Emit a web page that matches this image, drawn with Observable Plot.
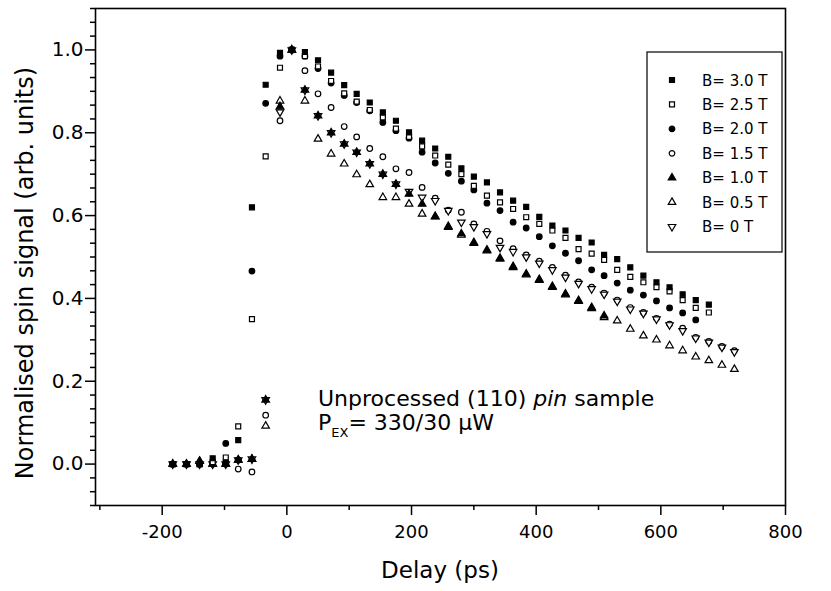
<!DOCTYPE html>
<html>
<head>
<meta charset="utf-8">
<script src="https://cdn.jsdelivr.net/npm/d3@7"></script>
<script src="https://cdn.jsdelivr.net/npm/@observablehq/plot@0.6"></script>
<style>
  html, body { margin: 0; padding: 0; background: #fff; }
  #chart { width: 831px; height: 591px; }
  text { font-family: "DejaVu Sans", "Liberation Sans", Arial, sans-serif; }
  g[aria-label="x-axis tick label"] { font-size: 18px; }
  g[aria-label="y-axis tick label"] { font-size: 20px; }
</style>
</head>
<body>
<div id="chart"></div>
<script>
// ---- data ----
const delays = [-183,-161,-140,-119,-98,-78,-56,-34,-11,
  8,29,50,71,92,112,133,154,175,196,217,238,259,280,300,321,342,363,384,405,
  426,447,468,489,509,530,551,572,593,614,635,656,677,698,718];

const b30 = [0.0,0.0,0.0,0.014,0.003,0.058,0.62,0.916,0.993,
  1.0,0.995,0.975,0.945,0.915,0.894,0.873,0.849,0.829,0.801,0.781,0.762,0.742,0.714,0.694,0.68,
  0.656,0.636,0.621,0.597,0.576,0.564,0.546,0.535,0.505,0.495,0.475,0.455,0.439,0.427,0.41,
  0.396,0.385,null,null];
const b25 = [0.0,0.0,0.0,0.005,0.016,0.091,0.35,0.743,0.957,
  1.0,0.985,0.96,0.925,0.895,0.875,0.855,0.837,0.81,0.79,0.767,0.745,0.723,0.70,0.672,0.648,
  0.632,0.616,0.596,0.58,0.564,0.546,0.519,0.508,0.493,0.469,0.452,0.439,0.427,0.417,0.396,
  0.377,0.366,null,null];
const b20 = [0.0,0.0,0.0,0.0,0.05,0.01,0.466,0.871,0.985,
  1.0,0.985,0.955,0.92,0.89,0.873,0.853,0.825,0.805,0.787,0.753,0.727,0.702,0.683,0.662,0.63,
  0.612,0.584,0.57,0.549,0.527,0.509,0.491,0.469,0.455,0.437,0.42,0.408,0.394,0.377,0.365,
  0.348,null,null,null];
const b15 = [0.0,0.0,0.0,0.0,0.0,-0.012,-0.019,0.118,0.829,
  1.0,0.95,0.894,0.861,0.815,0.79,0.762,0.742,0.713,0.704,0.668,0.642,0.613,0.608,0.58,0.562,
  0.539,0.52,0.505,0.49,0.475,0.456,0.44,0.427,0.413,0.396,0.378,0.366,0.352,0.338,0.328,
  0.306,0.296,0.284,0.274];
const b10 = [0.0,0.0,0.007,0.0,0.0,0.01,0.012,0.155,0.863,
  1.0,0.903,0.841,0.80,0.773,0.753,0.725,0.70,0.676,0.652,0.628,0.598,0.574,0.556,0.535,0.517,
  0.497,0.477,0.459,0.446,0.429,0.411,0.395,0.378,0.358,null,null,null,null,null,null,
  null,null,null,null];
const b05 = [0.0,0.0,0.007,0.0,0.0,0.01,0.012,0.092,0.877,
  1.0,0.877,0.785,0.749,0.725,0.699,0.675,0.644,0.644,0.628,0.604,0.597,0.572,0.553,0.533,0.515,
  0.495,0.475,0.457,0.444,0.427,0.409,0.393,0.376,0.354,0.346,0.326,0.31,0.30,0.286,0.274,
  0.259,0.25,0.239,0.229];
const b00 = [0.0,0.0,0.0,0.0,0.0,0.01,0.012,0.155,0.85,
  1.0,0.903,0.841,0.80,0.773,0.753,0.725,0.70,0.676,0.658,0.644,0.636,0.612,0.584,0.573,0.556,
  0.523,0.513,0.50,0.485,0.469,0.451,0.436,0.423,0.41,0.393,0.374,0.364,0.35,0.336,0.322,
  0.304,0.294,0.282,0.271];

const seriesLabels = ["B= 3.0 T","B= 2.5 T","B= 2.0 T","B= 1.5 T","B= 1.0 T","B= 0.5 T","B= 0 T"];
const xTicks = [-200, 0, 200, 400, 600, 800];
const xMinorTicks = [-300, -100, 100, 300, 500, 700];
const yTicks = [0.0, 0.2, 0.4, 0.6, 0.8, 1.0];
const yMinorTicks = d3.range(-3, 34).filter(k => k % 6 !== 0).map(k => k * 0.2 / 6);
const xLabel = "Delay (ps)";
const yLabel = "Normalised spin signal (arb. units)";

// ---- symbols ----
const symbolDown = {
  draw(ctx, size) {
    const s3 = Math.sqrt(3);
    const y = -Math.sqrt(size / (s3 * 3));
    ctx.moveTo(0, -y * 2);
    ctx.lineTo(-s3 * y, y);
    ctx.lineTo(s3 * y, y);
    ctx.closePath();
  }
};
const styles = [
  {values: b30, symbol: d3.symbolSquare, filled: true},
  {values: b25, symbol: d3.symbolSquare, filled: false},
  {values: b20, symbol: d3.symbolCircle, filled: true},
  {values: b15, symbol: d3.symbolCircle, filled: false},
  {values: b10, symbol: d3.symbolTriangle, filled: true},
  {values: b05, symbol: d3.symbolTriangle, filled: false},
  {values: b00, symbolDown: true, filled: false}
].map((s, i) => ({...s, label: seriesLabels[i], symbol: s.symbolDown ? symbolDown : s.symbol}));

const rows = styles.map(s => delays.map((d, i) => ({x: d, y: s.values[i], s: s.label}))
  .filter(r => r.y != null));

const R = 2.8;
const drawOrder = [3, 6, 5, 4, 2, 1, 0];
const dotMarks = drawOrder.map(i => {
  const s = styles[i];
  return Plot.dot(rows[i], {
    x: "x", y: "y", symbol: s.symbol, r: R,
    fill: s.filled ? "black" : "white", stroke: "black", strokeWidth: 1.2
  });
});

const chart = Plot.plot({
  width: 831, height: 591,
  marginLeft: 95, marginRight: 46, marginTop: 8, marginBottom: 86,
  style: {background: "white", color: "black", fontFamily: "DejaVu Sans, Liberation Sans, Arial, sans-serif"},
  x: {domain: [-307, 800]},
  y: {domain: [-0.1, 1.1]},
  marks: [
    Plot.axisX({ticks: xMinorTicks, tickSize: 5, strokeWidth: 1.5, tickFormat: () => "", label: null}),
    Plot.axisX({ticks: xTicks, tickSize: 10, tickPadding: 10, strokeWidth: 1.5, fontSize: 18,
      tickFormat: d => String(d), label: null}),
    Plot.axisY({ticks: yMinorTicks, tickSize: 5, strokeWidth: 1.5, tickFormat: () => "", label: null}),
    Plot.axisY({ticks: yTicks, tickSize: 10, tickPadding: 2, strokeWidth: 1.5, fontSize: 20,
      tickFormat: d => d.toFixed(1), label: null}),
    ...dotMarks,
    Plot.frame({stroke: "black", strokeWidth: 1.6})
  ]
});
document.getElementById("chart").appendChild(chart);

// ---- titles, annotation and legend ----
const svg = d3.select(chart);
svg.append("text").attr("x", 440).attr("y", 578).attr("text-anchor", "middle")
  .attr("font-size", 23).attr("fill", "black").text(xLabel);
svg.append("text").attr("transform", "translate(33,273) rotate(-90)").attr("text-anchor", "middle")
  .attr("font-size", 24).attr("fill", "black").text(yLabel);

const ann = svg.append("g").attr("font-size", 22).attr("fill", "black").attr("text-anchor", "start");
const l1 = ann.append("text").attr("x", 318).attr("y", 406);
l1.append("tspan").text("Unprocessed (110) ");
l1.append("tspan").attr("font-style", "italic").text("pin");
l1.append("tspan").text(" sample");
const l2 = ann.append("text").attr("x", 318).attr("y", 430);
l2.append("tspan").text("P");
l2.append("tspan").attr("font-size", 13).attr("dy", 7).text("EX");
l2.append("tspan").attr("dy", -7).text("= 330/30 \u03BCW");

const leg = svg.append("g").attr("text-anchor", "start");
leg.append("rect").attr("x", 647).attr("y", 52).attr("width", 135).attr("height", 200)
  .attr("fill", "white").attr("stroke", "black").attr("stroke-width", 1.2);
const sz = Math.PI * R * R;
styles.forEach((s, i) => {
  const y = 80 + 24.45 * i;
  leg.append("path").attr("transform", `translate(672,${y})`)
    .attr("d", d3.symbol(s.symbol, sz)())
    .attr("fill", s.filled ? "black" : "white").attr("stroke", "black").attr("stroke-width", 1.2);
  leg.append("text").attr("x", 702).attr("y", y + 5.5).attr("font-size", 15).attr("fill", "black")
    .text(s.label);
});
</script>
</body>
</html>
